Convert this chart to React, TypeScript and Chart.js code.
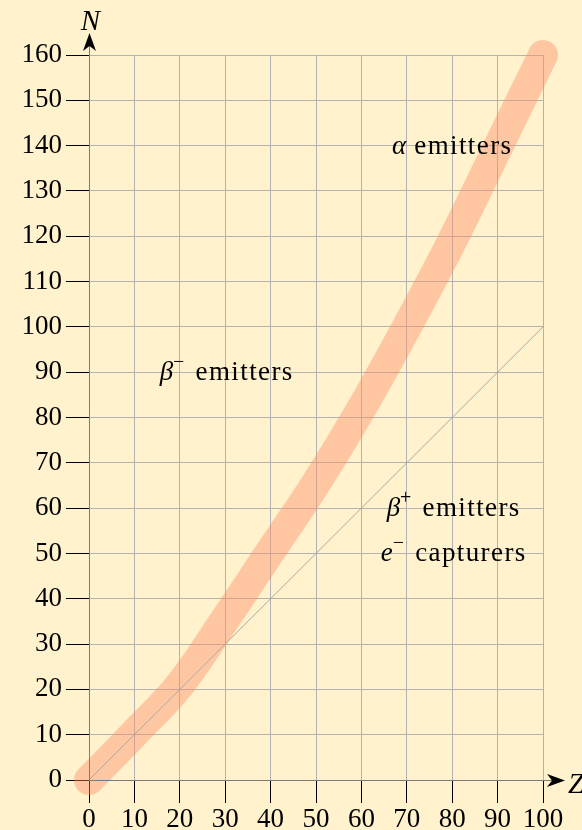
import React, { useEffect, useRef } from "react";
import { Chart, registerables } from "chart.js";

Chart.register(...registerables);

// Line of stability: neutron number N against proton number Z
const stabilityZ = [0, 10, 20, 30, 40, 50, 60, 70, 80, 90, 100];
const stabilityN = [0, 10.3, 21, 35.5, 50.5, 65.5, 82, 100, 119, 139.5, 160];

// N = Z reference line
const diagonalZ = [0, 100];
const diagonalN = [0, 100];

const zRange = [0, 100];
const nRange = [0, 160];
const tickStep = 10;

type Seg = { text: string; italic?: boolean; sup?: boolean };

const regionLabels: { z: number; n: number; segs: Seg[] }[] = [
  { z: 80, n: 140, segs: [{ text: "α", italic: true }, { text: " emitters" }] },
  { z: 30, n: 90, segs: [{ text: "β", italic: true }, { text: "−", sup: true }, { text: " emitters" }] },
  { z: 80, n: 60, segs: [{ text: "β", italic: true }, { text: "+", sup: true }, { text: " emitters" }] },
  { z: 80, n: 50, segs: [{ text: "e", italic: true }, { text: "−", sup: true }, { text: " capturers" }] },
];

const FONT = '"Liberation Serif", "Times New Roman", serif';
const BG = "#fff2cd";
const BAND = "rgba(252,140,100,0.42)";
const GRID = "#b2b2b2";
const AXIS = "#7c7c7c";

function drawRich(ctx: CanvasRenderingContext2D, segs: Seg[], cx: number, baseline: number) {
  const fontFor = (s: Seg) => `${s.italic ? "italic " : ""}${s.sup ? 20 : 27}px ${FONT}`;
  const spacingFor = (s: Seg) => (s.italic || s.sup ? "0px" : "1.4px");
  const widths = segs.map((s) => {
    ctx.font = fontFor(s);
    (ctx as any).letterSpacing = spacingFor(s);
    return ctx.measureText(s.text).width;
  });
  const total = widths.reduce((a, b) => a + b, 0);
  let x = cx - total / 2;
  segs.forEach((s, i) => {
    ctx.font = fontFor(s);
    (ctx as any).letterSpacing = spacingFor(s);
    ctx.fillText(s.text, x, s.sup ? baseline - 12 : baseline);
    x += widths[i] + (s.sup ? 3 : 0);
  });
  (ctx as any).letterSpacing = "0px";
}

function stealthArrow(ctx: CanvasRenderingContext2D, tipX: number, tipY: number, dir: "up" | "right") {
  ctx.beginPath();
  if (dir === "up") {
    ctx.moveTo(tipX, tipY);
    ctx.lineTo(tipX + 6.5, tipY + 18);
    ctx.lineTo(tipX, tipY + 13);
    ctx.lineTo(tipX - 6.5, tipY + 18);
  } else {
    ctx.moveTo(tipX, tipY);
    ctx.lineTo(tipX - 18, tipY + 6.5);
    ctx.lineTo(tipX - 13, tipY);
    ctx.lineTo(tipX - 18, tipY - 6.5);
  }
  ctx.closePath();
  ctx.fillStyle = "#000";
  ctx.fill();
}

const backgroundPlugin = {
  id: "pageBackground",
  beforeDraw(chart: Chart) {
    const { ctx, width, height } = chart;
    ctx.save();
    ctx.fillStyle = BG;
    ctx.fillRect(0, 0, width, height);
    ctx.restore();
  },
};

const overlayPlugin = {
  id: "axesAndLabels",
  afterDatasetsDraw(chart: Chart) {
    const { ctx, chartArea } = chart;
    const xs = chart.scales.x;
    const ys = chart.scales.y;
    const left = Math.round(chartArea.left) + 0.5;
    const bottom = Math.round(chartArea.bottom) + 0.5;
    ctx.save();
    ctx.strokeStyle = AXIS;
    ctx.lineWidth = 1;
    ctx.beginPath();
    ctx.moveTo(left, bottom);
    ctx.lineTo(left, chartArea.top - 12);
    ctx.moveTo(left, bottom);
    ctx.lineTo(chartArea.right + 12, bottom);
    ctx.stroke();
    stealthArrow(ctx, left, chartArea.top - 22, "up");
    stealthArrow(ctx, chartArea.right + 22, bottom, "right");

    ctx.fillStyle = "#000";
    ctx.textBaseline = "alphabetic";
    ctx.font = `italic 29px ${FONT}`;
    ctx.textAlign = "center";
    ctx.fillText("N", left + 1, chartArea.top - 25);
    ctx.textAlign = "left";
    ctx.fillText("Z", chartArea.right + 25, bottom + 12);

    regionLabels.forEach((l) => {
      drawRich(ctx, l.segs, xs.getPixelForValue(l.z), ys.getPixelForValue(l.n) + 8);
    });
    ctx.restore();
  },
};

export default function App() {
  const ref = useRef<HTMLCanvasElement | null>(null);

  useEffect(() => {
    if (!ref.current) return;
    const band = stabilityZ.map((z, i) => ({ x: z, y: stabilityN[i] }));
    const diag = diagonalZ.map((z, i) => ({ x: z, y: diagonalN[i] }));
    const tickFont = { family: FONT, size: 27 };

    const chart = new Chart(ref.current, {
      type: "line",
      data: {
        datasets: [
          {
            data: diag,
            borderColor: "#a8a8a8",
            borderWidth: 1,
            pointRadius: 0,
            order: 0,
          },
          {
            data: band,
            borderColor: BAND,
            borderWidth: 30,
            borderCapStyle: "round",
            borderJoinStyle: "round",
            tension: 0.4,
            pointRadius: 0,
            clip: false,
            order: 1,
          },
        ],
      },
      options: {
        animation: false,
        responsive: false,
        devicePixelRatio: 1,
        layout: { padding: { top: 55, right: 39, left: 0, bottom: 0 } },
        plugins: { legend: { display: false }, tooltip: { enabled: false } },
        scales: {
          x: {
            type: "linear",
            min: zRange[0],
            max: zRange[1],
            afterFit: (s: any) => {
              s.height = 50;
            },
            ticks: { stepSize: tickStep, color: "#000", font: tickFont, padding: 1, maxRotation: 0, autoSkip: false },
            grid: { color: GRID, lineWidth: 1, tickColor: "#000", tickLength: 23, drawTicks: true },
            border: { display: false },
          },
          y: {
            type: "linear",
            min: nRange[0],
            max: nRange[1],
            afterFit: (s: any) => {
              s.width = 89;
            },
            ticks: { stepSize: tickStep, color: "#000", font: tickFont, padding: 4, autoSkip: false },
            grid: { color: GRID, lineWidth: 1, tickColor: "#000", tickLength: 23, drawTicks: true },
            border: { display: false },
          },
        },
      },
      plugins: [backgroundPlugin, overlayPlugin],
    });
    return () => chart.destroy();
  }, []);

  return (
    <div style={{ position: "fixed", left: 0, top: 0, width: 582, height: 830, background: BG }}>
      <canvas ref={ref} width={582} height={830} style={{ width: 582, height: 830, display: "block" }} />
    </div>
  );
}
